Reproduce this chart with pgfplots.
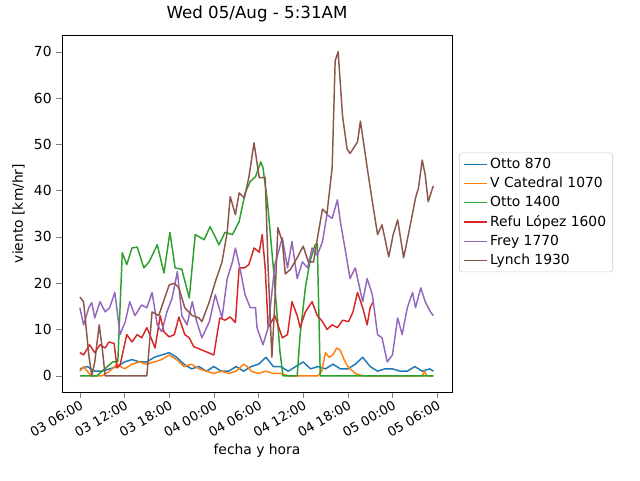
\documentclass[border=0pt]{standalone}
\usepackage{pgfplots}
\pgfplotsset{compat=1.18}
\usepackage{fontspec}
\setmainfont{DejaVu Sans}
\definecolor{c0}{HTML}{1F77B4}\definecolor{c1}{HTML}{FF7F0E}\definecolor{c2}{HTML}{2CA02C}
\definecolor{c3}{HTML}{D62728}\definecolor{c4}{HTML}{9467BD}\definecolor{c5}{HTML}{8C564B}
\begin{document}
\begin{tikzpicture}
\path (-46.5pt,-66pt) rectangle (433.5pt,294pt);
\begin{axis}[at={(0,0)},anchor=south west,scale only axis,width=292.5pt,height=267.75pt,
 xmin=3.6,xmax=56,ymin=-3.5,ymax=73.6,
 font=\fontsize{10.4}{12}\selectfont,
 /pgf/number format/assume math mode=true,
 xtick={6,12,18,24,30,36,42,48,54},
 xticklabels={03 06:00,03 12:00,03 18:00,04 00:00,04 06:00,04 12:00,04 18:00,05 00:00,05 06:00},
 x tick label style={rotate=30,anchor=north east,inner sep=1pt,font=\fontsize{9.8}{11}\selectfont},
 ytick={0,10,20,30,40,50,60,70},
 tick align=outside,tick pos=left,
 xlabel={fecha y hora},ylabel={viento [km/hr]},
 title={Wed 05/Aug - 5:31AM},title style={font=\fontsize{12.5}{14}\selectfont},
 legend style={at={(1.018,0.503)},anchor=west,draw=black!20,rounded corners=2pt,font=\fontsize{10.4}{12}\selectfont,row sep=1pt},
 legend cell align=left,
 every axis plot post/.append style={line width=1.1pt,line join=round},
]
\addplot[c0] coordinates {(6,1.5)(7,2)(8,1)(9,1)(10,1.5)(11,2)(12,3)(13,3.5)(14,3)(15,3)(16,4)(17,4.5)(18,5)(19,4)(20,2.5)(21,1.5)(22,2)(23,1)(24,2)(25,1)(26,1)(27,2)(28,1)(29,2)(30,2.5)(31,4)(32,2)(33,2)(34,1)(35,2)(36,3)(37,1.5)(38,2)(39,1.5)(40,2.5)(41,1.5)(42,1.5)(43,2.5)(44,4)(45,2)(46,1)(47,1.5)(48,1.5)(49,1)(50,1)(51,2)(52,1)(53,1.5)(53.5,1)};
\addlegendentry{Otto 870}
\addplot[c1] coordinates {(6,1)(6.5,2)(7.5,0)(9,0)(10,1)(11,2.5)(12,1.5)(13,2.5)(14,3)(15,2.5)(16,3)(17,3.5)(18,4.5)(19,3.5)(20,2)(21,2.5)(22,1.5)(23,1)(24,0.5)(25,1)(26,0.5)(27,1)(28,2.5)(28.5,2)(29,1)(30,0.5)(31,1)(32,0.5)(33,0.5)(34,0)(38,0)(38.5,1)(39,5)(39.5,4)(40,4.5)(40.5,6)(41,5.5)(41.5,3.5)(42,2)(43,0.5)(44,0)(52,0)(52.3,1)(52.6,0)(53.5,0)};
\addlegendentry{V Catedral 1070}
\addplot[c2] coordinates {(6,0)(8.3,0)(10.4,3)(11.1,3)(11.7,26.6)(12.3,24)(13.0,27.6)(13.7,27.8)(14.6,23.3)(15.3,24.6)(16.4,28.3)(17.3,22.2)(18.1,31)(18.8,23.3)(19.7,23)(20.7,16.8)(21.5,30.5)(22.7,29.4)(23.5,32.2)(24.7,28.3)(25.5,31)(26.5,30.5)(27.4,33.3)(28.2,39.5)(28.9,42)(29.6,43)(30.3,46.2)(30.6,45)(31.2,37.6)(32.0,23.3)(32.9,5)(33.3,0)(35.2,0)(35.6,9)(36.3,19)(36.9,24.6)(37.6,28.3)(37.9,28.5)(38.3,0)(53.5,0)};
\addlegendentry{Otto 1400}
\addplot[c3] coordinates {(6,5)(6.5,4.5)(7.3,6.7)(8.0,5)(8.7,6.7)(9.4,6)(9.9,7.3)(10.6,7)(11.0,1.7)(11.4,2.3)(12.3,8.9)(13.0,7.3)(13.7,8.9)(14.3,8.2)(15.0,10.4)(15.4,8.9)(16.1,6)(16.8,13)(17.3,9.5)(18.0,8.4)(18.7,8.9)(19.3,12.7)(20.1,8.9)(20.7,8.2)(21.3,6.3)(24.0,4.5)(24.8,12.5)(25.5,12)(26.2,12.7)(26.9,11.5)(27.4,23.3)(28.1,23.3)(28.7,24)(29.4,27.6)(30.1,26.7)(30.5,30.5)(30.9,23.3)(31.3,10.4)(32.2,13)(33.2,8.2)(33.9,8.9)(34.5,16)(35.2,13)(35.6,10.4)(36.3,13.8)(37.2,16)(37.9,13)(38.6,11.7)(39.2,10)(39.9,11)(40.6,10.4)(41.3,12)(42.1,11.7)(42.7,13.8)(43.3,18)(44.0,14.7)(44.6,11)(45.0,14.7)(45.4,16)};
\addlegendentry{Refu López 1600}
\addplot[c4] coordinates {(6,14.7)(6.5,11)(7.2,14.7)(7.6,15.8)(8.0,12.5)(8.7,16)(9.4,13.8)(10.0,14.7)(10.7,18)(11.4,8.9)(12.1,11.7)(12.7,16)(13.4,13)(14.3,15.3)(15.0,14.7)(15.7,18)(16.4,11)(17.0,9.5)(17.7,13.8)(18.4,16.8)(19.1,22.5)(19.7,13)(20.4,11)(21.1,16)(21.7,11.7)(22.4,8.2)(23.4,11.7)(24.2,17.5)(25.1,12.5)(25.8,21)(26.5,24.6)(26.9,27.6)(27.5,23.3)(28.2,17.5)(28.9,14.7)(29.6,14.7)(29.8,10.4)(30.6,6.7)(31.3,10.4)(32.2,24)(33.2,29.8)(33.9,23.3)(34.5,29)(35.2,21)(35.9,24.6)(36.6,23.3)(37.2,27.6)(37.9,26)(38.6,29)(39.2,34.8)(39.9,34)(40.6,38)(41.0,33.3)(41.7,26.8)(42.3,21)(43.0,23.3)(44.0,16)(44.6,21)(45.3,17.5)(46.0,8.9)(46.6,8.2)(47.3,3)(48.0,4.5)(48.7,12.5)(49.3,8.9)(50.0,14.7)(50.7,18)(51.1,14.7)(51.8,19)(52.4,16)(53.1,13.8)(53.5,13)};
\addlegendentry{Frey 1770}
\addplot[c5] coordinates {(6,17)(6.5,16)(7.2,4.5)(7.6,0)(8.0,3)(8.6,11)(9.0,6)(9.4,0)(15.0,0)(15.7,13.8)(16.6,13)(17.4,16.8)(18.0,19.6)(18.7,20)(19.3,19)(20.1,14.7)(21.1,13)(22.0,12.5)(22.4,11.7)(23.4,16)(24.2,20.3)(25.1,24.6)(25.8,31)(26.2,38.7)(26.9,34.8)(27.4,39.5)(28.1,38.4)(28.7,42.8)(29.4,50.3)(30.1,42.8)(30.9,42.8)(31.3,23)(31.8,4)(32.2,16)(32.6,32)(33.2,29)(33.6,22)(34.3,23)(35.2,25.5)(36.0,28)(36.7,24.6)(37.4,24.6)(38.0,30.5)(38.6,36)(39.2,35)(39.9,45)(40.3,68)(40.7,70)(41.3,56)(41.9,49)(42.3,48)(42.7,49)(43.3,50.5)(43.7,55)(44.6,45)(45.3,37.6)(46.0,30.5)(46.6,32.6)(47.5,25.7)(48.1,30.5)(48.7,33.7)(49.5,25.5)(50.4,32.6)(51.1,38.4)(51.5,40.6)(52.0,46.6)(52.4,43.4)(52.8,37.6)(53.4,40.6)(53.5,41)};
\addlegendentry{Lynch 1930}
\end{axis}
\end{tikzpicture}
\end{document}
